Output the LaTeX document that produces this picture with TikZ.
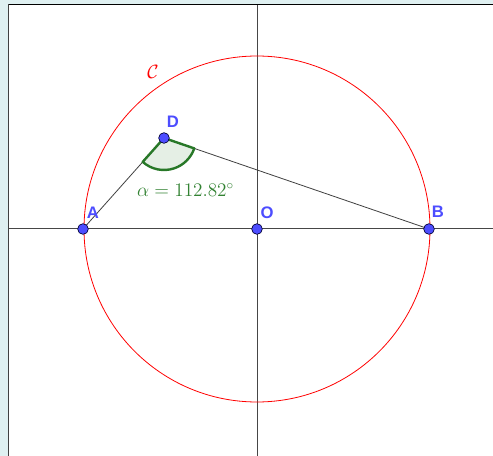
\documentclass[tikz,border=0pt]{standalone}
\usepackage{fontspec}
\newfontfamily\lblfont{Liberation Sans}
\definecolor{ptblue}{RGB}{77,77,255}
\definecolor{anggreen}{RGB}{0,100,0}
\definecolor{angedge}{RGB}{40,120,40}
\definecolor{txtgreen}{RGB}{50,130,50}
\definecolor{panel}{RGB}{223,240,241}
\definecolor{axisgray}{RGB}{70,70,70}
\begin{document}
\begin{tikzpicture}[x=0.75pt,y=-0.75pt,
  pt/.style={circle,fill=ptblue,draw=black!80!blue,line width=0.5pt,inner sep=0pt,minimum size=8pt},
  ptlabel/.style={text=ptblue,font=\lblfont\bfseries\fontsize{12.5}{12.5}\selectfont,inner sep=0pt},
  axisline/.style={draw=axisgray,line width=0.75pt},
  segline/.style={draw=black!75,line width=0.6pt}]
\useasboundingbox (0,0) rectangle (493,456);
% panel background and frame
\fill[panel] (0,0) rectangle (493,456);
\fill[white] (8.5,4.5) rectangle (493,456);
\draw[black!50!gray,line width=1.2pt] (8.5,456) -- (8.5,4.5);
\draw[black,line width=1.2pt] (8.5,4.5) -- (493,4.5);
% coordinates
\coordinate (Oc) at (257,229);
\coordinate (Ac) at (83,229);
\coordinate (Bc) at (429,229);
\coordinate (Dc) at (164,138);
\coordinate (xl) at (9,229);
\coordinate (xr) at (493,229);
\coordinate (yt) at (257,5);
\coordinate (yb) at (257,456);
% axes
\draw[axisline] (xl) -- (xr);
\draw[axisline] (yt) -- (yb);
% circle
\draw[red,line width=0.6pt] (Oc) circle[radius=173];
\node[text=red,font=\fontsize{14}{14}\selectfont,inner sep=0pt] (Clab) at (153,72) {$\mathcal{C}$};
% segments
\draw[segline] (Ac) -- (Dc);
\draw[segline] (Dc) -- (Bc);
% angle sector
\path[fill=anggreen,fill opacity=0.1,draw=angedge,line width=1.8pt,line join=round]
  (Dc) -- ++(228.3:24pt) arc[start angle=228.3, end angle=341.05, radius=24pt] -- cycle;
\node[text=txtgreen,font=\fontsize{14}{14}\selectfont,inner sep=0pt] (alab) at (185.5,190) {$\alpha = 112.82^\circ$};
% points
\node[pt] (A) at (Ac) {};
\node[pt] (B) at (Bc) {};
\node[pt] (D) at (Dc) {};
\node[pt] (O) at (Oc) {};
\node[ptlabel] (Alab) at (93,213) {A};
\node[ptlabel] (Blab) at (438,212) {B};
\node[ptlabel] (Dlab) at (173,122) {D};
\node[ptlabel] (Olab) at (267,213) {O};
\end{tikzpicture}
\end{document}
